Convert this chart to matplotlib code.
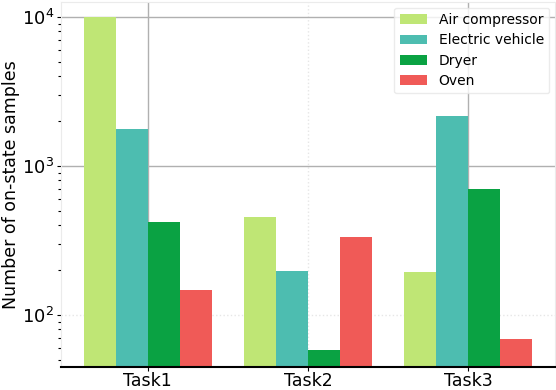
import matplotlib.pyplot as plt
import numpy as np

tasks = ["Task1", "Task2", "Task3"]
appliances = ["Air compressor", "Electric vehicle", "Dryer", "Oven"]
colors = ["#bfe675", "#4dbdb0", "#0aa243", "#f05a57"]

air_compressor = [10000, 455, 193]
electric_vehicle = [1760, 196, 2150]
dryer = [421, 58, 703]
oven = [147, 335, 69]


def main():
    fig, ax = plt.subplots(figsize=(5.56, 3.9), dpi=100)
    fig.subplots_adjust(left=0.11, right=0.998, top=0.995, bottom=0.06)

    x = np.arange(len(tasks))
    width = 0.2
    series = [air_compressor, electric_vehicle, dryer, oven]
    for i, (vals, name, c) in enumerate(zip(series, appliances, colors)):
        ax.bar(x + (i - 1.5) * width, vals, width, color=c, label=name, zorder=2)

    ax.set_yscale("log")
    ax.set_ylim(45, 12600)
    ax.set_xlim(-0.54, 2.54)
    ax.set_xticks(x)
    ax.set_xticklabels(tasks, fontsize=12.5)
    ax.set_ylabel("Number of on-state samples", fontsize=12.5, labelpad=1)
    ax.tick_params(axis="y", labelsize=13, length=3, width=0.8, pad=2)
    ax.tick_params(axis="y", which="minor", length=2, width=0.8)
    ax.tick_params(axis="x", length=3, pad=1)

    ax.set_axisbelow(True)
    ax.grid(True, which="major", color="#b0b0b0", linewidth=1)
    for gl in ax.get_xgridlines()[1:2]:
        gl.set_linestyle(":")
        gl.set_color("#e6e6e6")
    for gl, t in zip(ax.get_ygridlines(), ax.get_yticks()):
        if abs(t - 100) < 1:
            gl.set_linestyle(":")
            gl.set_color("#e6e6e6")

    for s in ["left", "top", "right"]:
        ax.spines[s].set_color("#ebebeb")
    ax.spines["bottom"].set_color("black")
    ax.spines["bottom"].set_linewidth(1.5)

    leg = ax.legend(loc="upper right", fontsize=10, frameon=True, handlelength=2.0,
                    handletextpad=0.8, labelspacing=0.45, borderaxespad=0.4)
    leg.get_frame().set_edgecolor("#e6e6e6")

    fig.savefig("out.png", dpi=100)


if __name__ == "__main__":
    main()
